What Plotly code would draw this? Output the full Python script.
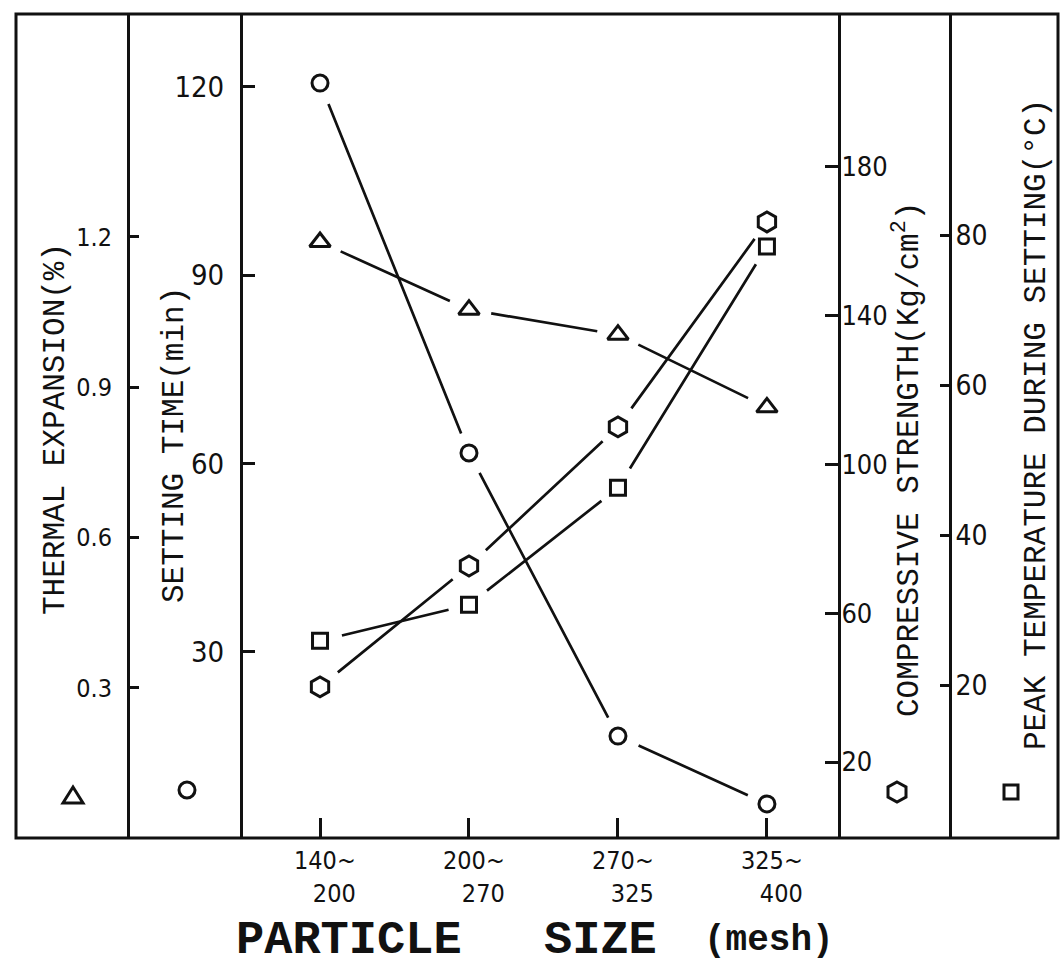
import plotly.graph_objects as go

# Particle-size fractions (mesh), lower and upper sieve of each fraction
mesh_from = ["140", "200", "270", "325"]
mesh_to = ["200", "270", "325", "400"]

# Properties measured for each fraction
thermal_expansion = [1.19, 1.055, 1.005, 0.86]      # %
setting_time = [120.6, 61.7, 16.6, 5.8]             # min
compressive_strength = [40.2, 72.7, 110.1, 165.2]   # kg/cm2
peak_temperature = [25.9, 30.7, 46.3, 78.5]         # deg C

# Tick values of the four vertical scales
thermal_ticks = [0.3, 0.6, 0.9, 1.2]
thermal_ticktext = ["0.3", "0.6", "0.9", "1.2"]
setting_ticks = [30, 60, 90, 120]
strength_ticks = [20, 60, 100, 140, 180]
temperature_ticks = [20, 40, 60, 80]

# ---------------------------------------------------------------- geometry
W, H = 1060, 971
INK = "#111111"
MONO = "Liberation Mono, DejaVu Sans Mono, monospace"
NARROW = "Liberation Sans Narrow, DejaVu Sans Condensed, Liberation Sans, sans-serif"


def fx(x):
    return x / W


def fy(y):
    return (H - y) / H


FRAME_L, FRAME_R, FRAME_T, FRAME_B = 16, 1058, 14, 838
AX_THERMAL, AX_SETTING, AX_STRENGTH, AX_TEMP = 128, 243, 838, 950

xpos = list(range(len(mesh_from)))

fig = go.Figure()

series = [
    (thermal_expansion, "y2", "triangle-up-open", 18),
    (setting_time, "y", "circle-open", 16),
    (compressive_strength, "y3", "hexagon-open", 20),
    (peak_temperature, "y4", "square-open", 15),
]

annotations = []
for values, yref, symbol, size in series:
    fig.add_trace(go.Scatter(
        x=xpos, y=values, yaxis=yref, mode="markers",
        marker=dict(symbol=symbol, size=size, color=INK,
                    line=dict(width=3, color=INK)),
        cliponaxis=False, showlegend=False, hoverinfo="skip",
    ))
    # connecting segments stop short of the markers
    for i in range(len(values) - 1):
        annotations.append(dict(
            x=xpos[i + 1], y=values[i + 1], ax=xpos[i], ay=values[i],
            xref="x", yref=yref, axref="x", ayref=yref, text="",
            showarrow=True, arrowhead=0, arrowwidth=2.7, arrowcolor=INK,
            standoff=21, startstandoff=21,
        ))

# two-line category labels, right aligned under each tick
for i in xpos:
    annotations.append(dict(
        x=xpos[i], y=fy(877), xref="x", yref="paper",
        text=mesh_from[i] + "~<br>" + mesh_to[i], align="right",
        showarrow=False, xanchor="right", yanchor="middle", xshift=38,
        font=dict(family=NARROW, size=25, color=INK)))

# axis caption
for text, left, size in [("PARTICLE", 234, 47), ("SIZE", 542, 47), ("(mesh)", 702, 36)]:
    annotations.append(dict(
        x=fx(left), y=fy(940), xref="paper", yref="paper", text=text,
        showarrow=False, xanchor="left", yanchor="middle",
        font=dict(family=MONO, size=size, color=INK, weight="bold")))

# rotated titles of the four scales
for text, cx, cy in [
    ("THERMAL EXPANSION(%)", 56, 429),
    ("SETTING TIME(min)", 174, 445),
    ("COMPRESSIVE STRENGTH(Kg/cm<sup>2</sup>)", 907, 460),
    ("PEAK TEMPERATURE DURING SETTING(°C)", 1036, 425),
]:
    annotations.append(dict(
        x=fx(cx), y=fy(cy), xref="paper", yref="paper", text=text,
        textangle=-90, showarrow=False, xanchor="center", yanchor="middle",
        font=dict(family=MONO, size=31, color=INK)))

# ---------------------------------------------------------------- shapes
shapes = [dict(type="rect", xref="paper", yref="paper",
               x0=fx(FRAME_L), x1=fx(FRAME_R), y0=fy(FRAME_B), y1=fy(FRAME_T),
               line=dict(color=INK, width=3))]


def poly(points):
    return "M " + " L ".join(f"{fx(x):.5f},{fy(y):.5f}" for x, y in points) + " Z"


key_line = dict(color=INK, width=3)
# keys in the side panels
shapes.append(dict(type="path", xref="paper", yref="paper", line=key_line,
                   path=poly([(63, 803), (83, 803), (73, 787)])))
shapes.append(dict(type="circle", xref="paper", yref="paper", line=key_line,
                   x0=fx(179), x1=fx(195), y0=fy(798), y1=fy(782)))
shapes.append(dict(type="path", xref="paper", yref="paper", line=key_line,
                   path=poly([(897, 782), (906, 787), (906, 797), (897, 802),
                              (888, 797), (888, 787)])))
shapes.append(dict(type="rect", xref="paper", yref="paper", line=key_line,
                   x0=fx(1004), x1=fx(1018), y0=fy(799), y1=fy(785)))

ydom = [fy(FRAME_B), fy(FRAME_T)]
common_y = dict(showgrid=False, zeroline=False, showline=True, linewidth=3,
                linecolor=INK, ticks="inside", tickwidth=3, tickcolor=INK,
                fixedrange=True, domain=ydom)

fig.update_layout(
    width=W, height=H, margin=dict(l=0, r=0, t=0, b=0),
    paper_bgcolor="white", plot_bgcolor="white", showlegend=False,
    xaxis=dict(domain=[fx(AX_SETTING), fx(AX_STRENGTH)], range=[-0.517, 3.477],
               tickvals=xpos, showticklabels=False, ticks="inside", ticklen=20,
               tickwidth=3, tickcolor=INK, showgrid=False, zeroline=False,
               showline=False, fixedrange=True),
    yaxis=dict(common_y, anchor="x", side="left", range=[0.37, 131.6],
               tickvals=setting_ticks, ticklen=12, ticklabelstandoff=10,
               tickfont=dict(family=NARROW, size=29, color=INK)),
    yaxis2=dict(common_y, overlaying="y", anchor="free", position=fx(AX_THERMAL),
                side="left", range=[0.0006, 1.645], tickvals=thermal_ticks,
                ticktext=thermal_ticktext, ticklen=9, ticklabelstandoff=10,
                tickfont=dict(family=NARROW, size=25, color=INK)),
    yaxis3=dict(common_y, overlaying="y", anchor="x", side="right",
                range=[-0.43, 221.1], tickvals=strength_ticks, ticklen=13,
                ticklabelstandoff=-5,
                tickfont=dict(family=NARROW, size=27, color=INK)),
    yaxis4=dict(common_y, overlaying="y", anchor="free", position=fx(AX_TEMP),
                side="right", range=[-0.4, 109.5], tickvals=temperature_ticks,
                ticklen=9, ticklabelstandoff=-2,
                tickfont=dict(family=NARROW, size=28, color=INK)),
    annotations=annotations,
    shapes=shapes,
)

fig.write_html("out.html")
